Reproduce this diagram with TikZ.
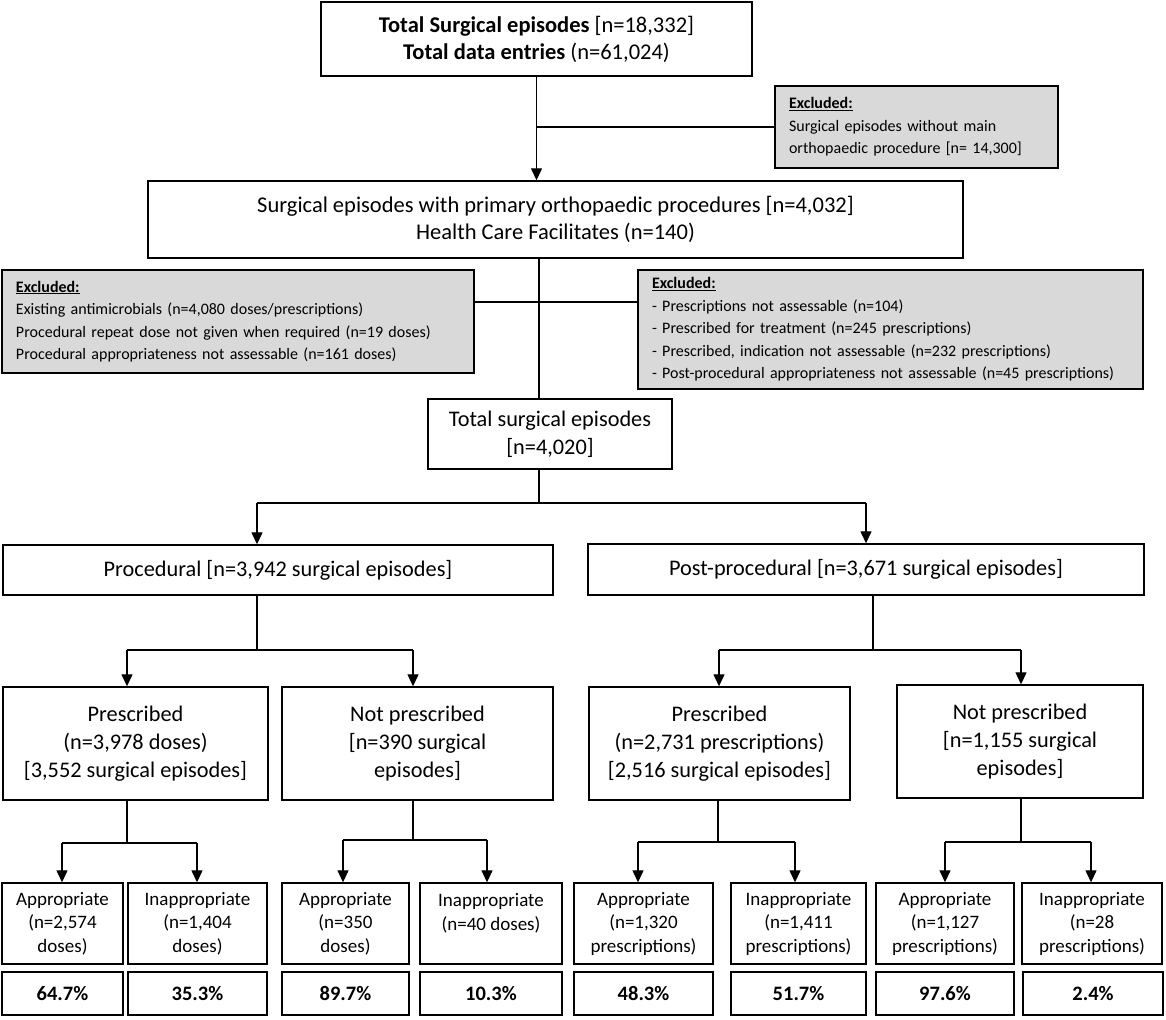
\documentclass[tikz,border=0pt]{standalone}
\usepackage{fontspec}
\setmainfont{Carlito}
\usetikzlibrary{arrows.meta}
\definecolor{exgray}{RGB}{217,217,217}
\newcommand\fs[2]{\fontsize{#1}{#2}\selectfont}
% name, x1, y1, x2, y2, style, text
\newcommand\mybox[7]{\node[#6, minimum width={(#4-#2)*1pt}, minimum height={(#5-#3)*1pt}] (#1) at ({(#2+#4)/2},{(#3+#5)/2}) {#7};}
\tikzset{
  bx/.style={draw, line width=1.4pt, inner sep=0pt, align=center},
  ex/.style={draw, line width=1.4pt, fill=exgray, inner ysep=0pt, inner xsep=14pt, align=left, font={\fs{16}{22.5}}},
  conn/.style={line width=1.3pt},
  arr/.style={conn, -{Triangle[width=11pt,length=12pt]}},
  big/.style={font={\fs{22.5}{27}}},
  mid/.style={font={\fs{22.3}{28}}},
  sml/.style={font={\fs{19}{23.5}}},
  pct/.style={font={\fs{20.5}{22}\bfseries}},
}
\begin{document}
\begin{tikzpicture}[x=1pt,y=-1pt]
\useasboundingbox[fill=white] (0,0) rectangle (1166,1019);
% level 1
\mybox{top}{321}{2}{752}{76}{bx,big}{\textbf{Total Surgical episodes} [n=18,332]\\\textbf{Total data entries} (n=61,024)}
\node[ex, text width=255pt, minimum height=82pt] (ex1) at (916.5,127) {\underline{\textbf{Excluded:}}\\Surgical episodes without main\\orthopaedic procedure [n= 14,300]};
\mybox{main}{148}{181}{963}{258}{bx,big}{Surgical episodes with primary orthopaedic procedures [n=4,032]\\Health Care Facilitates (n=140)}
\node[ex, text width=444pt, minimum height=103pt] (ex2) at (238,321.5) {\underline{\textbf{Excluded:}}\\Existing antimicrobials (n=4,080 doses/prescriptions)\\Procedural repeat dose not given when required (n=19 doses)\\Procedural appropriateness not assessable (n=161 doses)};
\node[ex, text width=477pt, minimum height=119pt] (ex3) at (890.5,329.5) {\underline{\textbf{Excluded:}}\\- Prescriptions not assessable (n=104)\\- Prescribed for treatment (n=245 prescriptions)\\- Prescribed, indication not assessable (n=232 prescriptions)\\- Post-procedural appropriateness not assessable (n=45 prescriptions)};
\mybox{tot}{428}{399}{672}{469}{bx,mid}{Total surgical episodes\\{}[n=4,020]}
% level 2
\mybox{proc}{3}{545}{553}{595}{bx,mid}{Procedural [n=3,942 surgical episodes]}
\mybox{post}{588}{544}{1144}{595}{bx,mid}{Post-procedural [n=3,671 surgical episodes]}
% level 3
\mybox{pp}{3}{687}{268}{800}{bx,mid}{Prescribed\\(n=3,978 doses)\\{}[3,552 surgical episodes]}
\mybox{pn}{282}{687}{553}{800}{bx,mid}{Not prescribed\\{}[n=390 surgical\\episodes]}
\mybox{qp}{589}{687}{850}{800}{bx,mid}{Prescribed\\(n=2,731 prescriptions)\\{}[2,516 surgical episodes]}
\mybox{qn}{897}{685}{1143}{798}{bx,mid}{Not prescribed\\{}[n=1,155 surgical\\episodes]}
% level 4
\mybox{a1}{2}{883}{123}{964}{bx,sml}{Appropriate\\(n=2,574\\doses)}
\mybox{i1}{128}{883}{267}{964}{bx,sml}{Inappropriate\\(n=1,404\\doses)}
\mybox{a2}{282}{883}{409}{964}{bx,sml}{Appropriate\\(n=350\\doses)}
\mybox{i2}{420}{883}{562}{964}{bx,sml}{Inappropriate\\(n=40 doses)\\\mbox{}}
\mybox{a3}{574}{883}{713}{964}{bx,sml}{Appropriate\\(n=1,320\\prescriptions)}
\mybox{i3}{731}{883}{866}{964}{bx,sml}{Inappropriate\\(n=1,411\\prescriptions)}
\mybox{a4}{876}{883}{1014}{964}{bx,sml}{Appropriate\\(n=1,127\\prescriptions)}
\mybox{i4}{1022}{883}{1162}{964}{bx,sml}{Inappropriate\\(n=28\\prescriptions)}
% percentages
\mybox{pa1}{2}{972}{123}{1015}{bx,pct}{64.7\%}
\mybox{pi1}{128}{972}{267}{1015}{bx,pct}{35.3\%}
\mybox{pa2}{282}{972}{409}{1015}{bx,pct}{89.7\%}
\mybox{pi2}{420}{972}{562}{1015}{bx,pct}{10.3\%}
\mybox{pa3}{574}{972}{713}{1015}{bx,pct}{48.3\%}
\mybox{pi3}{731}{972}{866}{1015}{bx,pct}{51.7\%}
\mybox{pa4}{876}{972}{1014}{1015}{bx,pct}{97.6\%}
\mybox{pi4}{1023}{972}{1163}{1015}{bx,pct}{2.4\%}
% connectors
\draw[arr] (top.south) -- (top.south |- main.north);
\draw[conn] (top.south |- ex1.west) -- (ex1.west);
\coordinate (k1) at (539,302);
\draw[conn] (main.south -| k1) -- (tot.north -| k1);
\draw[conn] (ex2.east |- k1) -- (ex3.west |- k1);
\coordinate (k2) at (539,503);
\coordinate (k2a) at (257,503);
\coordinate (k2b) at (866,503);
\draw[conn] (tot.south -| k2) -- (k2);
\draw[conn] (k2a) -- (k2b);
\draw[arr] (k2a) -- (k2a |- proc.north);
\draw[arr] (k2b) -- (k2b |- post.north);
% procedural split
\coordinate (k3) at (257,650);
\coordinate (k3a) at (127,650);
\coordinate (k3b) at (413,650);
\draw[conn] (proc.south -| k3) -- (k3);
\draw[conn] (k3a) -- (k3b);
\draw[arr] (k3a) -- (k3a |- pp.north);
\draw[arr] (k3b) -- (k3b |- pn.north);
% post-procedural split
\coordinate (k4) at (873,650);
\coordinate (k4a) at (719,650);
\coordinate (k4b) at (1021,650);
\draw[conn] (post.south -| k4) -- (k4);
\draw[conn] (k4a) -- (k4b);
\draw[arr] (k4a) -- (k4a |- qp.north);
\draw[arr] (k4b) -- (k4b |- qn.north);
% level 4 splits
\coordinate (m1) at (127,843);
\coordinate (m1a) at (62,843);
\coordinate (m1b) at (197,843);
\draw[conn] (pp.south -| m1) -- (m1);
\draw[conn] (m1a) -- (m1b);
\draw[arr] (m1a) -- (m1a |- a1.north);
\draw[arr] (m1b) -- (m1b |- i1.north);
\coordinate (m2) at (413,840);
\coordinate (m2a) at (343,840);
\coordinate (m2b) at (487,840);
\draw[conn] (pn.south -| m2) -- (m2);
\draw[conn] (m2a) -- (m2b);
\draw[arr] (m2a) -- (m2a |- a2.north);
\draw[arr] (m2b) -- (m2b |- i2.north);
\coordinate (m3) at (718,842);
\coordinate (m3a) at (638,842);
\coordinate (m3b) at (795,842);
\draw[conn] (qp.south -| m3) -- (m3);
\draw[conn] (m3a) -- (m3b);
\draw[arr] (m3a) -- (m3a |- a3.north);
\draw[arr] (m3b) -- (m3b |- i3.north);
\coordinate (m4) at (1021,842);
\coordinate (m4a) at (945,842);
\coordinate (m4b) at (1091,842);
\draw[conn] (qn.south -| m4) -- (m4);
\draw[conn] (m4a) -- (m4b);
\draw[arr] (m4a) -- (m4a |- a4.north);
\draw[arr] (m4b) -- (m4b |- i4.north);
\end{tikzpicture}
\end{document}
